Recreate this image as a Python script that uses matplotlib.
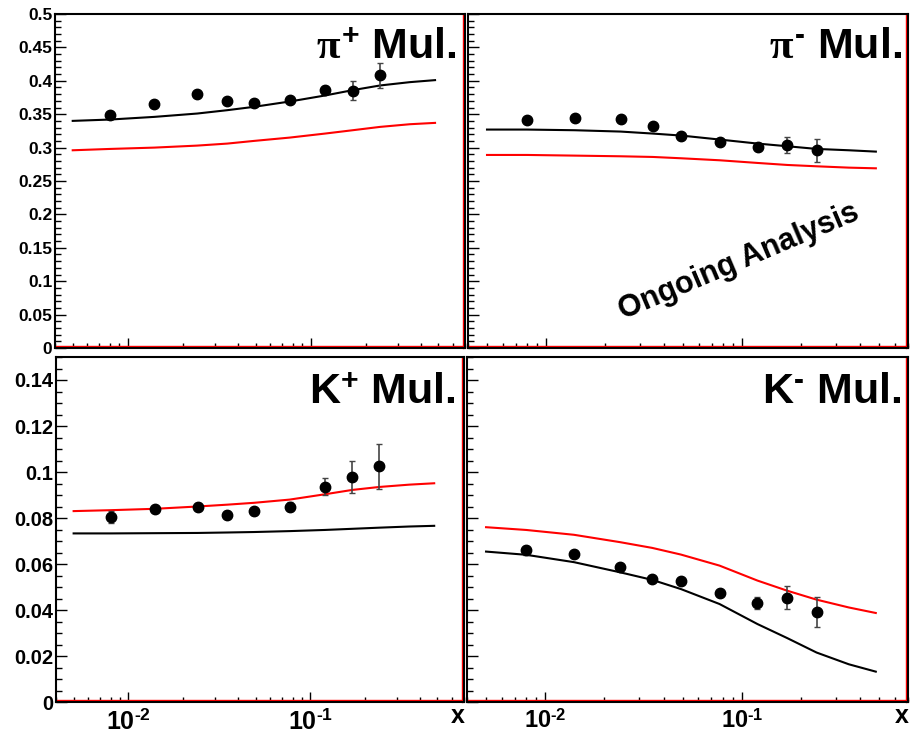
import math
import matplotlib
matplotlib.use('Agg')
import matplotlib.pyplot as plt
import matplotlib.transforms as mtransforms
from matplotlib.ticker import LogLocator, FuncFormatter, MultipleLocator, NullFormatter

plt.rcParams['font.family'] = ['Liberation Sans', 'DejaVu Sans']
plt.rcParams['font.weight'] = 'bold'
plt.rcParams['mathtext.fontset'] = 'custom'
plt.rcParams['mathtext.rm'] = 'Liberation Sans:bold'
plt.rcParams['mathtext.bf'] = 'Liberation Sans:bold'
plt.rcParams['mathtext.it'] = 'Liberation Serif'

# measured points (same x bins for all four)
x_data = [0.008, 0.014, 0.024, 0.035, 0.049, 0.077, 0.12, 0.17, 0.24]
pip_y = [0.349, 0.365, 0.380, 0.370, 0.367, 0.371, 0.386, 0.385, 0.408]
pip_err = [0.004, 0.003, 0.003, 0.003, 0.003, 0.003, 0.006, 0.014, 0.019]
pim_y = [0.341, 0.345, 0.343, 0.332, 0.317, 0.309, 0.301, 0.304, 0.296]
pim_err = [0.004, 0.003, 0.003, 0.003, 0.003, 0.003, 0.005, 0.012, 0.017]
kp_y = [0.0805, 0.0840, 0.0849, 0.0814, 0.0830, 0.0850, 0.0936, 0.0977, 0.1024]
kp_err = [0.0025, 0.0012, 0.0015, 0.0015, 0.0015, 0.002, 0.0037, 0.007, 0.0096]
km_y = [0.0659, 0.0644, 0.0586, 0.0535, 0.0528, 0.0472, 0.0430, 0.0454, 0.0390]
km_err = [0.002, 0.001, 0.001, 0.0012, 0.0012, 0.0012, 0.0025, 0.005, 0.0065]

# model curves
x_curve = [0.005, 0.008, 0.014, 0.024, 0.035, 0.049, 0.077, 0.12, 0.17, 0.24, 0.35, 0.48]
pip_black = [0.340, 0.342, 0.346, 0.351, 0.356, 0.361, 0.369, 0.378, 0.386, 0.393, 0.398, 0.401]
pip_red = [0.296, 0.298, 0.300, 0.303, 0.306, 0.310, 0.315, 0.321, 0.326, 0.331, 0.335, 0.337]
pim_black = [0.327, 0.327, 0.326, 0.324, 0.321, 0.318, 0.312, 0.306, 0.302, 0.298, 0.296, 0.294]
pim_red = [0.289, 0.289, 0.288, 0.287, 0.286, 0.284, 0.281, 0.277, 0.274, 0.272, 0.270, 0.269]
kp_black = [0.0733, 0.0733, 0.0734, 0.0735, 0.0737, 0.0739, 0.0743, 0.0748, 0.0753, 0.0758, 0.0763, 0.0766]
kp_red = [0.0830, 0.0834, 0.0840, 0.0850, 0.0858, 0.0866, 0.0880, 0.0903, 0.0922, 0.0935, 0.0945, 0.0951]
km_black = [0.0654, 0.0640, 0.0608, 0.0564, 0.0531, 0.0491, 0.0426, 0.0339, 0.0278, 0.0215, 0.0164, 0.0132]
km_red = [0.0760, 0.0748, 0.0727, 0.0695, 0.0670, 0.0641, 0.0593, 0.0528, 0.0484, 0.0445, 0.0411, 0.0387]

W, H = 911, 738
fig = plt.figure(figsize=(W / 100, H / 100), dpi=100)


def px_axes(x0, y0, x1, y1):
    return fig.add_axes([x0 / W, 1 - y1 / H, (x1 - x0) / W, (y1 - y0) / H])


panels = [
    # rect, y, err, black, red, title, ylim, major, minor, labels on left, x labels, ylabel size, xlabel size
    ((55, 14, 465, 348), pip_y, pip_err, pip_black, pip_red, r'$\pi^{+}$ Mul.', 0.5, 0.05, 0.01, True, False, 12.5, 0),
    ((468, 14, 908, 348), pim_y, pim_err, pim_black, pim_red, '$\\pi^{\u2010}$ Mul.', 0.5, 0.05, 0.01, False, False, 12.5, 0),
    ((56, 357, 464, 702), kp_y, kp_err, kp_black, kp_red, r'K$^{+}$ Mul.', 0.15, 0.02, 0.005, True, True, 14.5, 18),
    ((467, 357, 908, 702), km_y, km_err, km_black, km_red, 'K$^{\u2010}$ Mul.', 0.15, 0.02, 0.005, False, True, 14.5, 17),
]

for rect, y, err, black, red, title, ytop, major, minor, ylab, xlab, ysz, xsz in panels:
    ax = px_axes(*rect)
    ax.set_xscale('log')
    ax.set_xlim(0.004, 0.7)
    ax.set_ylim(0, ytop)

    ax.plot(x_curve, black, color='black', lw=1.5)
    ax.plot(x_curve, red, color='red', lw=1.5)
    ax.errorbar(x_data, y, yerr=err, fmt='o', color='black', ms=7.5,
                ecolor='#444444', elinewidth=1.2, capsize=2, capthick=1)

    # ROOT style frame: red line just inside bottom/right
    off_b = mtransforms.ScaledTranslation(0, 2 / 100, fig.dpi_scale_trans)
    off_r = mtransforms.ScaledTranslation(-2 / 100, 0, fig.dpi_scale_trans)
    ax.plot([0, 1], [0, 0], transform=ax.transAxes + off_b, color='red', lw=1, clip_on=False)
    ax.plot([1, 1], [0, 1], transform=ax.transAxes + off_r, color='red', lw=1, clip_on=False)
    for s in ax.spines.values():
        s.set_linewidth(1.5)

    ax.yaxis.set_major_locator(MultipleLocator(major))
    ax.yaxis.set_minor_locator(MultipleLocator(minor))
    ax.yaxis.set_major_formatter(FuncFormatter(lambda v, p: '%g' % round(v, 3)))
    ax.xaxis.set_major_locator(LogLocator(base=10, numticks=10))
    ax.xaxis.set_minor_locator(LogLocator(base=10, subs=range(2, 10), numticks=10))
    ax.xaxis.set_minor_formatter(NullFormatter())
    ax.xaxis.set_major_formatter(FuncFormatter(lambda v, p: '10$^{\u2010%d}$' % abs(round(math.log10(v)))))

    ax.tick_params(axis='y', which='major', direction='in', length=8, width=1, pad=2,
                   left=True, right=False, labelleft=ylab, labelsize=ysz)
    ax.tick_params(axis='y', which='minor', direction='in', length=4.3, width=1, left=True, right=False)
    ax.tick_params(axis='x', which='major', direction='in', length=7, width=1, pad=5,
                   bottom=True, top=False, labelbottom=xlab, labelsize=xsz)
    ax.tick_params(axis='x', which='minor', direction='in', length=3.5, width=1, bottom=True, top=False)

    ax.text(0.98 if ylab else 0.986, 0.867, title, transform=ax.transAxes,
            ha='right', va='baseline', fontsize=31, fontweight='bold')

fig.text(458 / W, 1 - 716 / H, 'x', ha='center', va='center', fontsize=18, fontweight='bold')
fig.text(902 / W, 1 - 716 / H, 'x', ha='center', va='center', fontsize=18, fontweight='bold')

fig.text(739 / W, 1 - 262 / H, 'Ongoing Analysis', ha='center', va='center',
         rotation=23, rotation_mode='anchor', fontsize=22, fontweight='bold')

fig.savefig('out.png', dpi=100)
